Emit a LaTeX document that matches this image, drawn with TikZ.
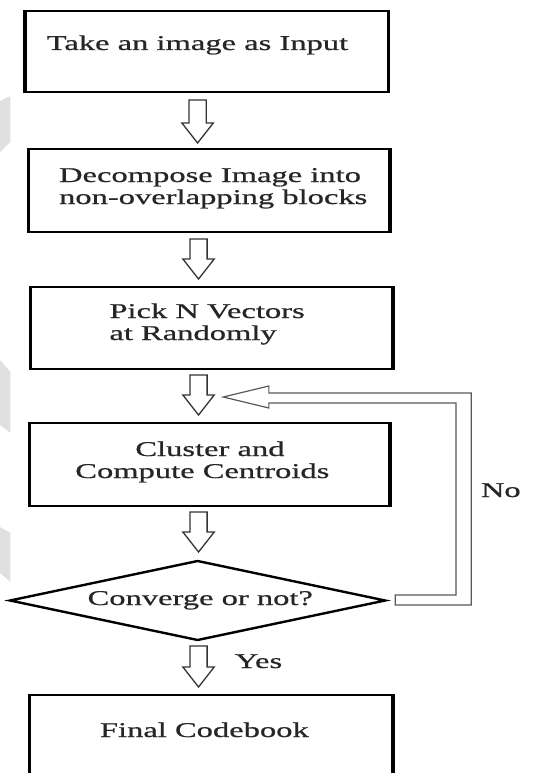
\documentclass[tikz,border=0pt]{standalone}
\usepackage{fontspec}
\setmainfont{Liberation Serif}[FakeStretch=1.55,FakeBold=0.7]
\usetikzlibrary{shapes.geometric}
\newcommand\hollowdown[4]{%
  \draw[harrow] (#1-9,#2) -- (#1+9,#2) -- (#1+9,#3) -- (#1+16.5,#3) -- (#1,#4)
    -- (#1-16.5,#3) -- (#1-9,#3) -- cycle;}
\begin{document}
\begin{tikzpicture}[x=0.95pt,y=-1pt,
  box/.style={draw=black, line width=2pt, inner sep=0pt, fill=white},
  side/.style={line width=3.6pt},
  lbl/.style={inner sep=0pt, text=black!85, font=\fontsize{21}{22}\selectfont},
  harrow/.style={draw=black!80, line width=1.3pt, fill=white, line join=miter},
  loop/.style={draw=black!65, line width=1.2pt, fill=white, line join=miter},
  ghost/.style={fill=black!12}]
\useasboundingbox (0,0) rectangle (577.9,773);
\clip (0,0) rectangle (577.9,773);
\fill[white] (0,0) rectangle (577.9,773);
% faint marks at the left edge
\fill[ghost] (0,101) -- (11,96) -- (11,142) -- (0,152) -- cycle;
\fill[ghost] (0,360) -- (11,372) -- (11,433) -- (0,425) -- cycle;
\fill[ghost] (0,527) -- (11,533) -- (11,582) -- (0,573) -- cycle;
% boxes
\node[box, minimum width=362pt, minimum height=81pt] (b1) at (217.5,51.5) {};
\node[box, minimum width=360pt, minimum height=83pt] (b2) at (220.5,190.5) {};
\node[box, minimum width=361pt, minimum height=82pt] (b3) at (223,328) {};
\node[box, minimum width=359pt, minimum height=83pt] (b4) at (221,464.5) {};
\node[box, minimum width=362pt, minimum height=105pt] (b5) at (222.5,747.5) {};
\foreach \b in {b1,b2,b3,b4,b5}{
  \draw[side] (\b.north west) -- (\b.south west);
  \draw[side] (\b.north east) -- (\b.south east);}
\node[draw=black, diamond, line width=2.4pt, minimum width=376pt, minimum height=80pt, inner sep=0pt] (d) at (208,600.5) {};
% texts
\node[lbl, anchor=base west] (t1) at (49,50) {Take an image as Input};
\node[lbl, anchor=base west] (t2a) at (62,182) {Decompose Image into};
\node[lbl, anchor=base west] (t2b) at (62,204) {non-overlapping blocks};
\node[lbl, anchor=base west] (t3a) at (115,318) {Pick N Vectors};
\node[lbl, anchor=base west] (t3b) at (115,340) {at Randomly};
\node[lbl, anchor=base] (t4a) at (221,456) {Cluster and};
\node[lbl, anchor=base] (t4b) at (213,478) {Compute Centroids};
\node[lbl, anchor=base west] (td) at (92,605) {Converge or not?};
\node[lbl, anchor=base west] (t5) at (105,737) {Final Codebook};
\node[lbl, anchor=base west] (yes) at (247,668) {Yes};
\node[lbl, anchor=base west] (no) at (506,497) {No};
% hollow down arrows
\hollowdown{208}{100}{123}{143}
\hollowdown{209}{239}{259}{279}
\hollowdown{209}{375}{395}{415}
\hollowdown{209}{512}{532}{552}
\hollowdown{209}{646}{667}{687}
% feedback (No) path
\draw[loop] (416,605) -- (496,605) -- (496,393) -- (283,393) -- (283,386) -- (235,397)
  -- (283,408) -- (283,403) -- (480,403) -- (480,595) -- (416,595) -- cycle;
\end{tikzpicture}
\end{document}
